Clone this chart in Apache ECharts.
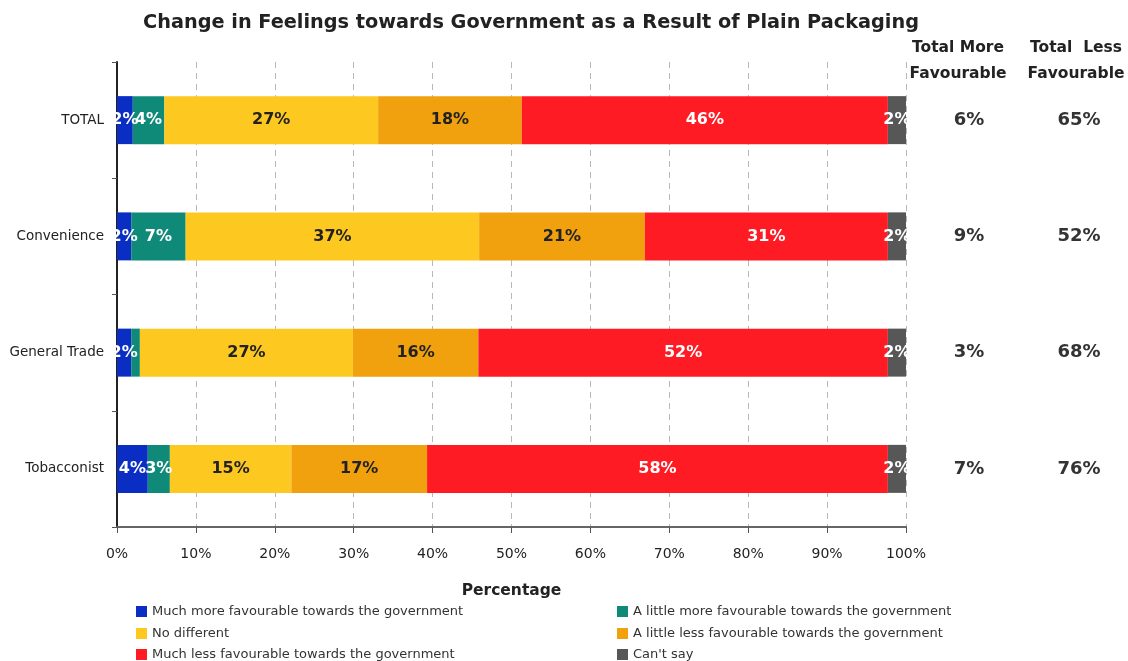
<!DOCTYPE html>
<html>
<head>
<meta charset="utf-8">
<script src="https://cdn.jsdelivr.net/npm/echarts@6/dist/echarts.min.js"></script>
<style>
  html, body { margin: 0; padding: 0; background: #fff; }
  #chart { width: 1128px; height: 661px; }
</style>
</head>
<body>
<div id="chart"></div>
<script>
// Retailer groups (top to bottom)
const categories = ['TOTAL', 'Convenience', 'General Trade', 'Tobacconist'];

// Share of respondents per answer, % (each row sums to 100)
const muchMore   = [2.0, 1.8, 1.8, 3.9];
const littleMore = [4.0, 6.9, 1.1, 2.8];
const noDiff     = [27.1, 37.2, 27.0, 15.4];
const littleLess = [18.2, 21.0, 15.9, 17.2];
const muchLess   = [46.4, 30.8, 51.9, 58.4];
const cantSay    = [2.3, 2.3, 2.3, 2.3];

const seriesNames = [
  'Much more favourable towards the government',
  'A little more favourable towards the government',
  'No different',
  'A little less favourable towards the government',
  'Much less favourable towards the government',
  "Can't say"
];
const seriesData = [muchMore, littleMore, noDiff, littleLess, muchLess, cantSay];
const colors = ['#0a2ec4', '#0f8a78', '#fdc81f', '#f0a10d', '#fe1b24', '#575757'];
const labelColors = ['#fff', '#fff', '#222', '#222', '#fff', '#fff'];

const xTicks = [0, 10, 20, 30, 40, 50, 60, 70, 80, 90, 100];

// Summary columns derived from the answer shares
const totalMore = categories.map((_, i) => muchMore[i] + littleMore[i]);
const totalLess = categories.map((_, i) => littleLess[i] + muchLess[i]);

const FONT = '"DejaVu Sans", Verdana, sans-serif';

const series = seriesNames.map((name, k) => ({
  name,
  type: 'bar',
  stack: 'all',
  barWidth: 48,
  data: seriesData[k],
  itemStyle: { color: colors[k] },
  label: {
    show: true,
    position: 'inside',
    color: labelColors[k],
    fontFamily: FONT,
    fontWeight: 'bold',
    fontSize: 16,
    formatter: p => (Math.round(p.value) >= 2 ? Math.round(p.value) + '%' : '')
  },
  emphasis: { disabled: true }
}));

// Two-column legend: left column holds series 0,2,4 and right column 1,3,5
const legendRows = [611, 633, 654];
const legends = seriesNames.map((name, k) => ({
  data: [name],
  left: k % 2 === 0 ? 136 : 617,
  top: legendRows[Math.floor(k / 2)] - 6,
  padding: 0,
  itemWidth: 11, itemHeight: 11,
  icon: 'rect',
  selectedMode: false,
  textStyle: { fontFamily: FONT, fontSize: 13, color: '#333' }
}));

const valueColumn = (margin, values) => ({
  type: 'category',
  data: categories,
  inverse: true,
  position: 'right',
  offset: 0,
  axisLine: { show: false },
  axisTick: { show: false },
  axisLabel: {
    align: 'center', margin,
    fontFamily: FONT, fontSize: 18, fontWeight: 'bold', color: '#333',
    formatter: (v, i) => Math.round(values[i]) + '%'
  }
});

const option = {
  animation: false,
  backgroundColor: '#fff',
  textStyle: { fontFamily: FONT },
  title: {
    text: 'Change in Feelings towards Government as a Result of Plain Packaging',
    left: 526,
    top: 8,
    textAlign: 'center',
    textStyle: { fontFamily: FONT, fontWeight: 'bold', fontSize: 19.3, color: '#222' }
  },
  legend: legends,
  grid: { left: 117, right: 222, top: 62, bottom: 134 },
  xAxis: {
    type: 'value',
    min: 0, max: 100, interval: 10,
    name: 'Percentage',
    nameLocation: 'middle',
    nameGap: 56,
    nameTextStyle: { fontFamily: FONT, fontWeight: 'bold', fontSize: 15.5, color: '#222' },
    axisLine: { show: true, lineStyle: { color: '#666', width: 2 } },
    axisTick: { show: true, length: 6, lineStyle: { color: '#555' } },
    axisLabel: {
      fontFamily: FONT, fontSize: 14, color: '#222', margin: 20,
      formatter: v => (xTicks.includes(v) ? v + '%' : '')
    },
    splitLine: { show: true, lineStyle: { color: '#b8b8b8', type: [6, 5], width: 1 } }
  },
  yAxis: [
    {
      type: 'category',
      data: categories,
      inverse: true,
      axisLine: { show: true, lineStyle: { color: '#222', width: 2 } },
      axisTick: { show: true, length: 5, lineStyle: { color: '#555' } },
      axisLabel: { fontFamily: FONT, fontSize: 13.5, color: '#222', margin: 13 },
      splitLine: { show: false }
    },
    valueColumn(63, totalMore),
    valueColumn(173, totalLess)
  ],
  graphic: [
    {
      type: 'text', x: 958, y: 35,
      style: {
        text: 'Total More\nFavourable', align: 'center',
        font: 'bold 15.5px ' + FONT, fill: '#222', lineHeight: 26
      }
    },
    {
      type: 'text', x: 1076, y: 35,
      style: {
        text: 'Total  Less\nFavourable', align: 'center',
        font: 'bold 15.5px ' + FONT, fill: '#222', lineHeight: 26
      }
    }
  ],
  series
};

const chart = echarts.init(document.getElementById('chart'), null, { renderer: 'canvas' });
chart.setOption(option);
</script>
</body>
</html>
